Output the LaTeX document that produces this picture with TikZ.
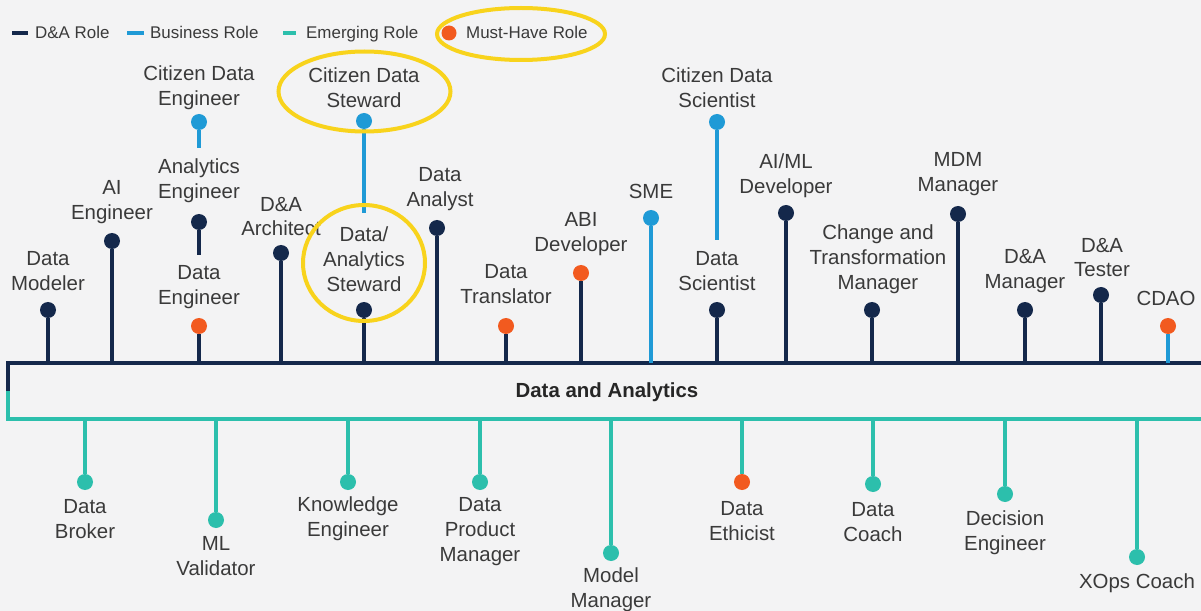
\documentclass[tikz,border=0pt]{standalone}
\usepackage{fontspec}
\setmainfont{Liberation Sans}
\definecolor{bg}{HTML}{F3F3F4}
\definecolor{navy}{HTML}{14284B}
\definecolor{bizblue}{HTML}{1F9AD6}
\definecolor{teal}{HTML}{2CBFAC}
\definecolor{mustor}{HTML}{F25A1F}
\definecolor{hilite}{HTML}{F8D31C}
\definecolor{txtgray}{HTML}{3A3A3A}
\tikzset{
  lbl/.style={font=\fontsize{20.5}{25}\selectfont, align=center, text=txtgray, inner sep=0pt},
  leglbl/.style={font=\fontsize{17}{20}\selectfont, text=txtgray, inner sep=0pt, anchor=base west},
  dotbase/.style={circle, inner sep=0pt, minimum size=16bp},
  dadot/.style={dotbase, fill=navy},
  bizdot/.style={dotbase, fill=bizblue},
  emdot/.style={dotbase, fill=teal},
  mustdot/.style={dotbase, fill=mustor},
  dastem/.style={draw=navy, line width=4bp},
  bizstem/.style={draw=bizblue, line width=4bp},
  emstem/.style={draw=teal, line width=4bp},
  barline/.style={line width=4bp},
  hiring/.style={draw=hilite, line width=4bp},
}
\begin{document}
\begin{tikzpicture}[x=1bp, y=-1bp]
\fill[bg] (0,0) rectangle (1201,611);
\useasboundingbox (0,0) rectangle (1201,611);

% legend
\coordinate (lg1a) at (12,33); \coordinate (lg1b) at (28,33);
\draw[navy, line width=4bp] (lg1a) -- (lg1b);
\node[leglbl] (lgt1) at (35,39) {D\&A Role};
\coordinate (lg2a) at (127,33); \coordinate (lg2b) at (144,33);
\draw[bizblue, line width=4bp] (lg2a) -- (lg2b);
\node[leglbl] (lgt2) at (150,39) {Business Role};
\coordinate (lg3a) at (283,33); \coordinate (lg3b) at (296,33);
\draw[teal, line width=4bp] (lg3a) -- (lg3b);
\node[leglbl] (lgt3) at (306,39) {Emerging Role};
\node[mustdot, minimum size=15bp] (lg4) at (449,33) {};
\node[leglbl] (lgt4) at (466,39) {Must-Have Role};

% central bar
\draw[navy, barline] (1201,363) -- (8,363) -- (8,391);
\draw[teal, barline] (8,391) -- (8,419) -- (1201,419);
\node[font=\fontsize{20.5}{25}\selectfont\bfseries, text=black!85, inner sep=0pt] (bar) at (607,392) {Data and Analytics};

% ---------- top roles ----------
% Data Modeler
\node[dadot] (dm) at (48,310) {};
\coordinate (dm-b) at (48,363);
\draw[dastem] (dm) -- (dm-b);
\node[lbl] (dm-l) at (48,271.5) {Data\\Modeler};
% AI Engineer
\node[dadot] (aie) at (112,241) {};
\coordinate (aie-b) at (112,363);
\draw[dastem] (aie) -- (aie-b);
\node[lbl] (aie-l) at (112,202.5) {AI\\Engineer};
% Citizen Data Engineer
\node[bizdot] (cde) at (199,122) {};
\coordinate (cde-b) at (199,148);
\draw[bizstem] (cde) -- (cde-b);
\node[lbl] (cde-l) at (199,87.5) {Citizen Data\\Engineer};
% Analytics Engineer
\node[dadot] (ane) at (199,222) {};
\coordinate (ane-b) at (199,255);
\draw[dastem] (ane) -- (ane-b);
\node[lbl] (ane-l) at (199,180.5) {Analytics\\Engineer};
% Data Engineer
\node[mustdot] (de) at (199,326) {};
\coordinate (de-b) at (199,363);
\draw[dastem] (de) -- (de-b);
\node[lbl] (de-l) at (199,287.5) {Data\\Engineer};
% D&A Architect
\node[dadot] (daa) at (281,253) {};
\coordinate (daa-b) at (281,363);
\draw[dastem] (daa) -- (daa-b);
\node[lbl] (daa-l) at (281,216.5) {D\&A\\Architect};
% Citizen Data Steward
\node[bizdot] (cds) at (364,121) {};
\coordinate (cds-b) at (364,213);
\draw[bizstem] (cds) -- (cds-b);
\node[lbl] (cds-l) at (364,87.5) {Citizen Data\\Steward};
% Data/Analytics Steward
\node[dadot] (das) at (364,310) {};
\coordinate (das-b) at (364,363);
\draw[dastem] (das) -- (das-b);
\node[lbl] (das-l) at (364,259) {Data/\\Analytics\\Steward};
% Data Analyst
\node[dadot] (dan) at (437,228) {};
\coordinate (dan-b) at (437,363);
\draw[dastem] (dan) -- (dan-b);
\node[lbl] (dan-l) at (440,189.5) {Data\\Analyst};
% Data Translator
\node[mustdot] (dtr) at (506,326) {};
\coordinate (dtr-b) at (506,363);
\draw[dastem] (dtr) -- (dtr-b);
\node[lbl] (dtr-l) at (506,284.5) {Data\\Translator};
% ABI Developer
\node[mustdot] (abi) at (581,273) {};
\coordinate (abi-b) at (581,363);
\draw[dastem] (abi) -- (abi-b);
\node[lbl] (abi-l) at (581,234) {ABI\\Developer};
% SME
\node[bizdot] (sme) at (651,218) {};
\coordinate (sme-b) at (651,363);
\draw[bizstem] (sme) -- (sme-b);
\node[lbl] (sme-l) at (651,191) {SME};
% Citizen Data Scientist
\node[bizdot] (cdsc) at (717,122) {};
\coordinate (cdsc-b) at (717,240);
\draw[bizstem] (cdsc) -- (cdsc-b);
\node[lbl] (cdsc-l) at (717,87.5) {Citizen Data\\Scientist};
% Data Scientist
\node[dadot] (dsc) at (717,310) {};
\coordinate (dsc-b) at (717,363);
\draw[dastem] (dsc) -- (dsc-b);
\node[lbl] (dsc-l) at (717,271.5) {Data\\Scientist};
% AI/ML Developer
\node[dadot] (aiml) at (786,213) {};
\coordinate (aiml-b) at (786,363);
\draw[dastem] (aiml) -- (aiml-b);
\node[lbl] (aiml-l) at (786,176) {AI/ML\\Developer};
% Change and Transformation Manager
\node[dadot] (ctm) at (872,310) {};
\coordinate (ctm-b) at (872,363);
\draw[dastem] (ctm) -- (ctm-b);
\node[lbl] (ctm-l) at (878,259) {Change and\\Transformation\\Manager};
% MDM Manager
\node[dadot] (mdm) at (958,214) {};
\coordinate (mdm-b) at (958,363);
\draw[dastem] (mdm) -- (mdm-b);
\node[lbl] (mdm-l) at (958,174.5) {MDM\\Manager};
% D&A Manager
\node[dadot] (dam) at (1025,310) {};
\coordinate (dam-b) at (1025,363);
\draw[dastem] (dam) -- (dam-b);
\node[lbl] (dam-l) at (1025,271.5) {D\&A\\Manager};
% D&A Tester
\node[dadot] (dat) at (1101,295) {};
\coordinate (dat-b) at (1101,363);
\draw[dastem] (dat) -- (dat-b);
\node[lbl] (dat-l) at (1102,257.5) {D\&A\\Tester};
% CDAO
\node[mustdot] (cdao) at (1168,326) {};
\coordinate (cdao-b) at (1168,363);
\draw[bizstem] (cdao) -- (cdao-b);
\node[lbl] (cdao-l) at (1166,298) {CDAO};

% ---------- bottom roles ----------
% Data Broker
\node[emdot] (dbr) at (85,482) {};
\coordinate (dbr-t) at (85,419);
\draw[emstem] (dbr-t) -- (dbr);
\node[lbl] (dbr-l) at (85,519) {Data\\Broker};
% ML Validator
\node[emdot] (mlv) at (216,520) {};
\coordinate (mlv-t) at (216,419);
\draw[emstem] (mlv-t) -- (mlv);
\node[lbl] (mlv-l) at (216,556.5) {ML\\Validator};
% Knowledge Engineer
\node[emdot] (ke) at (348,482) {};
\coordinate (ke-t) at (348,419);
\draw[emstem] (ke-t) -- (ke);
\node[lbl] (ke-l) at (348,519) {Knowledge\\Engineer};
% Data Product Manager
\node[emdot] (dpm) at (480,482) {};
\coordinate (dpm-t) at (480,419);
\draw[emstem] (dpm-t) -- (dpm);
\node[lbl] (dpm-l) at (480,531.5) {Data\\Product\\Manager};
% Model Manager
\node[emdot] (mm) at (611,553) {};
\coordinate (mm-t) at (611,419);
\draw[emstem] (mm-t) -- (mm);
\node[lbl] (mm-l) at (611,590) {Model\\Manager};
% Data Ethicist
\node[mustdot] (deth) at (742,482) {};
\coordinate (deth-t) at (742,419);
\draw[emstem] (deth-t) -- (deth);
\node[lbl] (deth-l) at (742,521) {Data\\Ethicist};
% Data Coach
\node[emdot] (dco) at (873,484) {};
\coordinate (dco-t) at (873,419);
\draw[emstem] (dco-t) -- (dco);
\node[lbl] (dco-l) at (873,522) {Data\\Coach};
% Decision Engineer
\node[emdot] (dec) at (1005,494) {};
\coordinate (dec-t) at (1005,419);
\draw[emstem] (dec-t) -- (dec);
\node[lbl] (dec-l) at (1005,532.5) {Decision\\Engineer};
% XOps Coach
\node[emdot] (xops) at (1137,557) {};
\coordinate (xops-t) at (1137,419);
\draw[emstem] (xops-t) -- (xops);
\node[lbl] (xops-l) at (1137,583) {XOps Coach};

% highlight ellipses
\draw[hiring] (521,34) ellipse [x radius=84, y radius=26];
\draw[hiring] (364.5,91.5) ellipse [x radius=86, y radius=40];
\draw[hiring] (364,263) ellipse [x radius=61, y radius=58];
\end{tikzpicture}
\end{document}
